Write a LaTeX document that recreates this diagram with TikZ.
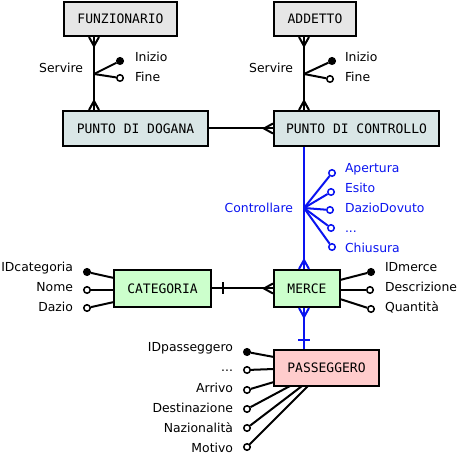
\documentclass[tikz,border=0pt]{standalone}
\usepackage{fontspec}
\setmainfont{DejaVu Sans}
\newfontfamily\monof{DejaVu Sans Mono}
\definecolor{egray}{HTML}{E6E6E6}
\definecolor{eblue}{HTML}{D9E6E6}
\definecolor{egreen}{HTML}{CCFFCC}
\definecolor{epink}{HTML}{FFCCCC}
\definecolor{lblue}{HTML}{0A14F0}
\begin{document}
\begin{tikzpicture}[x=1pt,y=-1pt,line width=2pt,
  ent/.style={draw=black,line width=2pt,inner sep=0pt,font=\monof\fontsize{13}{15}\selectfont},
  keyd/.style={circle,draw=black,fill=black,inner sep=0pt,minimum size=6.5pt,line width=1.5pt},
  optd/.style={circle,draw=black,fill=white,inner sep=0pt,minimum size=6.5pt,line width=1.5pt},
  lab/.style={inner sep=0pt,text height=9pt,text depth=3pt,font=\fontsize{12.4}{14}\selectfont},
  rel/.style={line width=2pt}]
\useasboundingbox (0,0) rectangle (458,454);
% entities
\node[ent,fill=egray,minimum width=113pt,minimum height=34pt] (fun) at (120.5,19) {FUNZIONARIO};
\node[ent,fill=egray,minimum width=82pt,minimum height=34pt] (add) at (315,19) {ADDETTO};
\node[ent,fill=eblue,minimum width=145pt,minimum height=35pt] (pdd) at (135.5,128.5) {PUNTO DI DOGANA};
\node[ent,fill=eblue,minimum width=165pt,minimum height=35pt] (pdc) at (356.5,128.5) {PUNTO DI CONTROLLO};
\node[ent,fill=egreen,minimum width=97pt,minimum height=37pt] (cat) at (162.5,288.5) {CATEGORIA};
\node[ent,fill=egreen,minimum width=66pt,minimum height=37pt] (mer) at (307,288.5) {MERCE};
\node[ent,fill=epink,minimum width=105pt,minimum height=36pt] (pas) at (326.5,368) {PASSEGGERO};

% FUNZIONARIO - PUNTO DI DOGANA
\coordinate (j1) at (94,74);
\draw[rel] (fun.south -| j1) -- (pdd.north -| j1);
\draw[rel] ([xshift=-5pt]fun.south -| j1) -- ++(5,9) -- ++(5,-9);
\draw[rel] ([xshift=-5pt]pdd.north -| j1) -- ++(5,-9) -- ++(5,9);
\node[keyd] (fi) at (120,61) {};
\node[optd] (ff) at (120,78) {};
\draw[rel] (j1) -- (fi); \draw[rel] (j1) -- (ff);
\node[lab,anchor=east] (fs) at (84,70) {Servire};
\node[lab,anchor=west] (fil) at (134,59) {Inizio};
\node[lab,anchor=west] (ffl) at (134,79) {Fine};

% ADDETTO - PUNTO DI CONTROLLO
\coordinate (j2) at (304,74);
\draw[rel] (add.south -| j2) -- (pdc.north -| j2);
\draw[rel] ([xshift=-5pt]add.south -| j2) -- ++(5,9) -- ++(5,-9);
\draw[rel] ([xshift=-5pt]pdc.north -| j2) -- ++(5,-9) -- ++(5,9);
\node[keyd] (ai) at (332,61) {};
\node[optd] (af) at (330,79) {};
\draw[rel] (j2) -- (ai); \draw[rel] (j2) -- (af);
\node[lab,anchor=east] (as) at (294,70) {Servire};
\node[lab,anchor=west] (ail) at (344,59) {Inizio};
\node[lab,anchor=west] (afl) at (344,79) {Fine};

% PDD - PDC
\draw[rel] (pdd.east) -- (pdc.west);
\draw[rel] ([yshift=-5pt]pdc.west) -- ++(-9,-5) -- ++(9,-5);

% Controllare
\coordinate (j3) at (304,208);
\draw[rel,lblue] (pdc.south -| j3) -- (mer.north -| j3);
\draw[rel,lblue] ([xshift=-5pt]mer.north -| j3) -- ++(5,-9) -- ++(5,9);
\node[optd,draw=lblue] (c1) at (332,173) {};
\node[optd,draw=lblue] (c2) at (331,192) {};
\node[optd,draw=lblue] (c3) at (330,210) {};
\node[optd,draw=lblue] (c4) at (331,228) {};
\node[optd,draw=lblue] (c5) at (332,247) {};
\foreach \c in {c1,c2,c3,c4,c5} \draw[rel,lblue] (j3) -- (\c);
\node[lab,text=lblue,anchor=east] at (294,210) {Controllare};
\node[lab,text=lblue,anchor=west] at (344,170) {Apertura};
\node[lab,text=lblue,anchor=west] at (344,190) {Esito};
\node[lab,text=lblue,anchor=west] at (344,210) {DazioDovuto};
\node[lab,text=lblue,anchor=west] at (344,230) {...};
\node[lab,text=lblue,anchor=west] at (344,250) {Chiusura};

% MERCE - PASSEGGERO
\draw[rel,lblue] (mer.south -| j3) -- (pas.north -| j3);
\draw[rel,lblue] ([xshift=-5pt]mer.south -| j3) -- ++(5,9) -- ++(5,-9);
\draw[rel,lblue] ([xshift=-6pt]pas.north -| j3) ++(0,-9) -- ++(12,0);

% CATEGORIA - MERCE
\draw[rel] (cat.east) -- (mer.west);
\draw[rel] ([xshift=11pt]cat.east) ++(0,-6) -- ++(0,12);
\draw[rel] ([yshift=-5pt]mer.west) -- ++(-9,-5) -- ++(9,-5);

% CATEGORIA attributes
\node[keyd] (k1) at (87,272) {};
\node[optd] (k2) at (87,290) {};
\node[optd] (k3) at (87,308) {};
\coordinate (k1e) at (114,278);
\coordinate (k2e) at (114,290);
\coordinate (k3e) at (114,302);
\draw[rel] (k1e) -- (k1); \draw[rel] (k2e) -- (k2); \draw[rel] (k3e) -- (k3);
\node[lab,anchor=east] at (74,269) {IDcategoria};
\node[lab,anchor=east] at (74,289) {Nome};
\node[lab,anchor=east] at (74,309) {Dazio};

% MERCE attributes
\node[keyd] (m1) at (371,272) {};
\node[optd] (m2) at (370,290) {};
\node[optd] (m3) at (371,309) {};
\coordinate (m1e) at (340,280);
\coordinate (m2e) at (340,290);
\coordinate (m3e) at (340,299);
\draw[rel] (m1e) -- (m1); \draw[rel] (m2e) -- (m2); \draw[rel] (m3e) -- (m3);
\node[lab,anchor=west] at (384,269) {IDmerce};
\node[lab,anchor=west] at (384,289) {Descrizione};
\node[lab,anchor=west] at (384,309) {Quantità};

% PASSEGGERO attributes
\node[keyd] (p1) at (247,352) {};
\node[optd] (p2) at (247,370) {};
\node[optd] (p3) at (247,390) {};
\node[optd] (p4) at (247,409) {};
\node[optd] (p5) at (247,428) {};
\node[optd] (p6) at (247,447) {};
\coordinate (p1e) at (274,357);
\coordinate (p2e) at (274,369);
\coordinate (p3e) at (274,382);
\coordinate (p4e) at (290,386);
\coordinate (p5e) at (302,386);
\coordinate (p6e) at (308,386);
\foreach \i in {1,...,6} \draw[rel] (p\i e) -- (p\i);
\node[lab,anchor=east] at (234,349) {IDpasseggero};
\node[lab,anchor=east] at (234,369) {...};
\node[lab,anchor=east] at (234,389) {Arrivo};
\node[lab,anchor=east] at (234,409) {Destinazione};
\node[lab,anchor=east] at (234,429) {Nazionalità};
\node[lab,anchor=east] at (234,449) {Motivo};
\end{tikzpicture}
\end{document}
